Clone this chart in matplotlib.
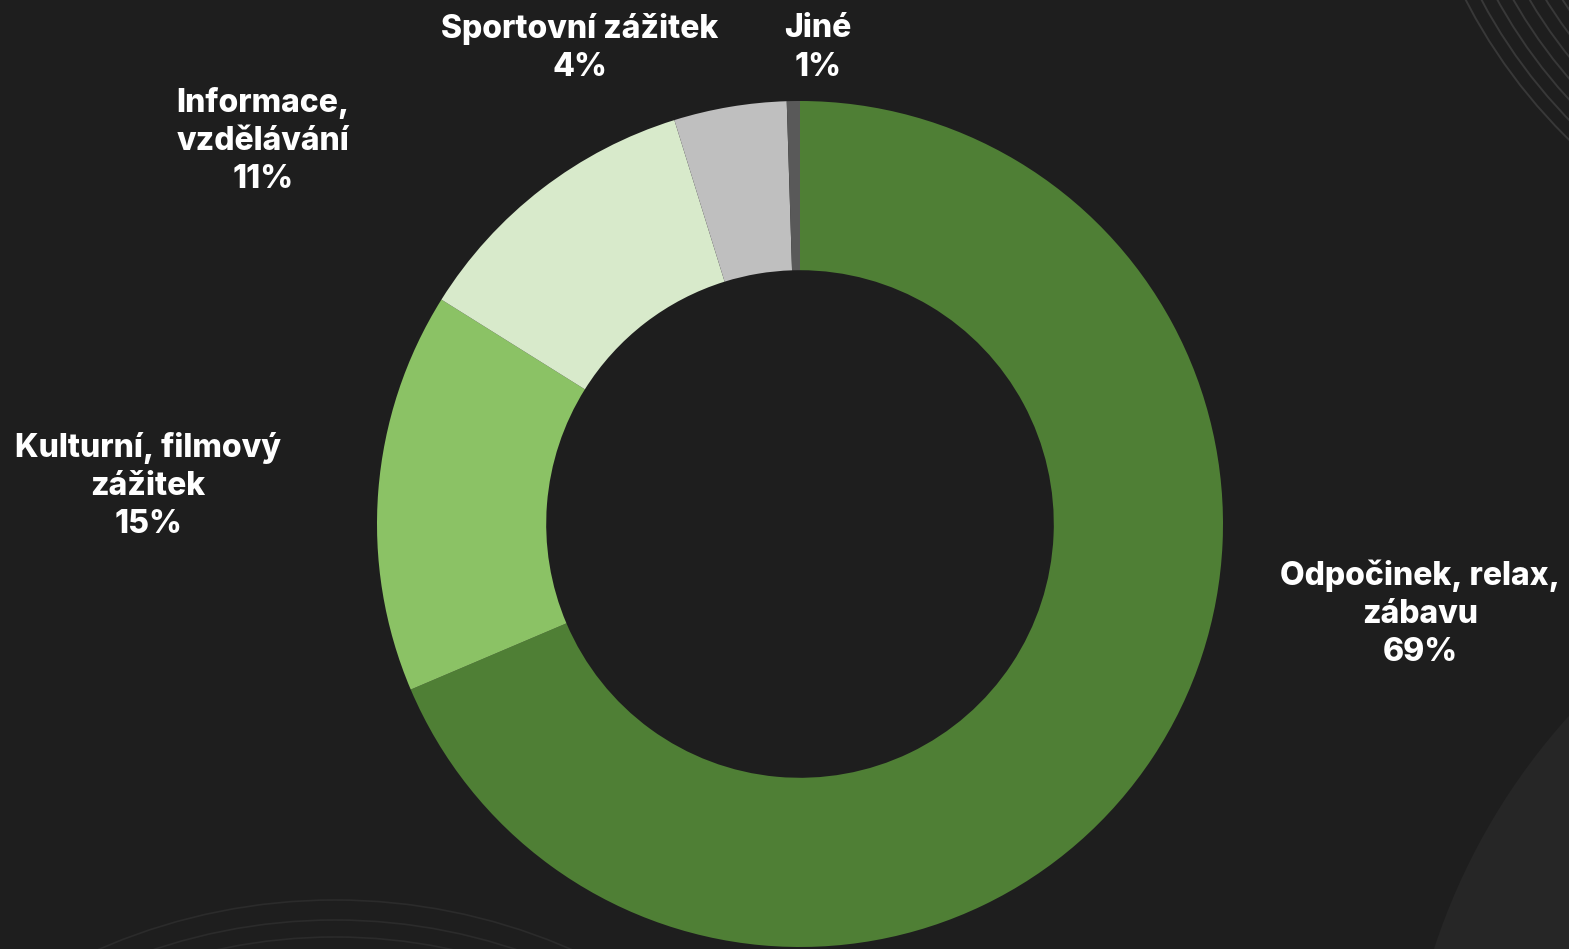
import matplotlib
matplotlib.use("Agg")
import matplotlib.pyplot as plt
from matplotlib.patches import Circle

# data
categories = ["Odpočinek, relax,\nzábavu", "Kulturní, filmový\nzážitek",
              "Informace,\nvzdělávání", "Sportovní zážitek", "Jiné"]
values = [68.6, 15.3, 11.3, 4.3, 0.5]
pct_labels = ["69%", "15%", "11%", "4%", "1%"]

colors = ["#4f7f35", "#8bc265", "#d8eacb", "#bfbfbf", "#595959"]
bg = "#1e1e1e"

W, H = 1569, 949
fig = plt.figure(figsize=(W / 100, H / 100), dpi=100, facecolor=bg)
ax = fig.add_axes([0, 0, 1, 1])
ax.set_facecolor(bg)

# background decoration
ax.add_patch(Circle((2050, 1150), 648, facecolor="#262626", edgecolor="none", zorder=0))
for k in range(7):
    ax.add_patch(Circle((1950, -250), 545 - 14 * k, facecolor="none",
                        edgecolor="#383838", lw=1.4, zorder=0))
for r in [590, 570, 553]:
    ax.add_patch(Circle((335, 1490), r, facecolor="none",
                        edgecolor="#2b2b2b", lw=1.2, zorder=0))

# donut
cx, cy, R = 800, 524, 423
wedges, _ = ax.pie(values, colors=colors, startangle=90, counterclock=False,
                   center=(cx, -cy), radius=R,
                   wedgeprops=dict(width=R * 0.4, edgecolor="none"), frame=True)
# pie draws in y-up coords; flip to match inverted axis
for w in wedges:
    w.set_center((cx, cy))
    t1, t2 = w.theta1, w.theta2
    w.set_theta1(-t2)
    w.set_theta2(-t1)
    w.set_zorder(2)
ax.set_xlim(0, W)
ax.set_ylim(H, 0)
ax.set_aspect("equal")
ax.axis("off")

# label positions (pixels)
label_pos = [(1420, 614), (148, 486), (263, 141), (580, 48), (818, 48)]
for (x, y), cat, p in zip(label_pos, categories, pct_labels):
    ax.text(x, y, cat + "\n" + p, ha="center", va="center", color="white",
            fontsize=23, fontweight=800, family=["Inter", "DejaVu Sans"],
            linespacing=1.3, zorder=3)

fig.savefig("out.png", dpi=100, facecolor=bg)
